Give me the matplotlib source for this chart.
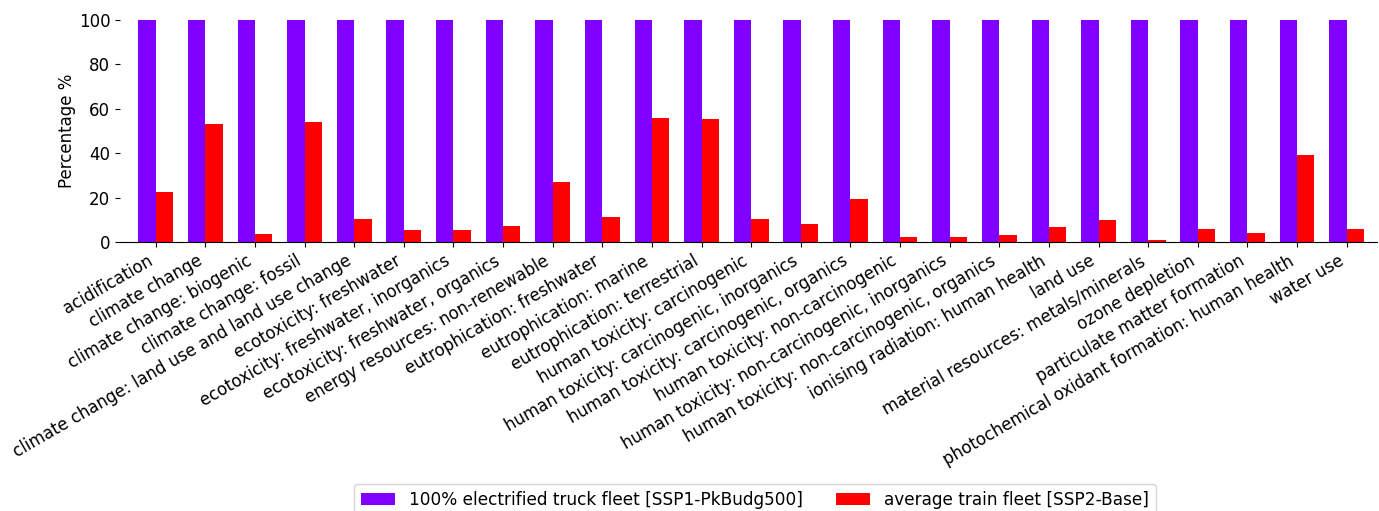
import matplotlib
matplotlib.use("Agg")
import matplotlib.pyplot as plt
import numpy as np

categories = [
    "acidification", "climate change", "climate change: biogenic", "climate change: fossil",
    "climate change: land use and land use change", "ecotoxicity: freshwater",
    "ecotoxicity: freshwater, inorganics", "ecotoxicity: freshwater, organics",
    "energy resources: non-renewable", "eutrophication: freshwater", "eutrophication: marine",
    "eutrophication: terrestrial", "human toxicity: carcinogenic",
    "human toxicity: carcinogenic, inorganics", "human toxicity: carcinogenic, organics",
    "human toxicity: non-carcinogenic", "human toxicity: non-carcinogenic, inorganics",
    "human toxicity: non-carcinogenic, organics", "ionising radiation: human health",
    "land use", "material resources: metals/minerals", "ozone depletion",
    "particulate matter formation", "photochemical oxidant formation: human health", "water use",
]
truck_values = [100] * 25
train_values = [22.4, 53.3, 3.8, 54.2, 10.5, 5.6, 5.6, 7.4, 26.9, 11.4, 56.0, 55.6, 10.5,
                8.3, 19.5, 2.4, 2.4, 3.3, 6.9, 10.1, 1.1, 6.0, 4.2, 39.2, 6.0]
series_labels = ["100% electrified truck fleet [SSP1-PkBudg500]", "average train fleet [SSP2-Base]"]

fig = plt.figure(figsize=(13.79, 5.11), dpi=100)
ax = fig.add_axes([0.087, 0.526, 0.9115, 0.435])
x = np.arange(len(categories))
w = 0.35
b1 = ax.bar(x - w / 2, truck_values, w, color="#7f00ff", label=series_labels[0])
b2 = ax.bar(x + w / 2, train_values, w, color="#ff0000", label=series_labels[1])
ax.set_xlim(-0.72, 24.61)
ax.set_ylim(0, 100)
ax.set_yticks([0, 20, 40, 60, 80, 100])
ax.tick_params(axis="both", labelsize=12)
ax.set_xticks(x)
ax.set_xticklabels(categories, rotation=30, ha="right", rotation_mode="default")
ax.set_ylabel("Percentage %", fontsize=12, labelpad=2)
for s in ["top", "right", "left"]:
    ax.spines[s].set_visible(False)
fig.legend(handles=[b1, b2], labels=series_labels, loc="center", ncol=2,
           bbox_to_anchor=(755 / 1379, 0.022), fontsize=12.2, frameon=True)
fig.savefig("out.png", dpi=100)
